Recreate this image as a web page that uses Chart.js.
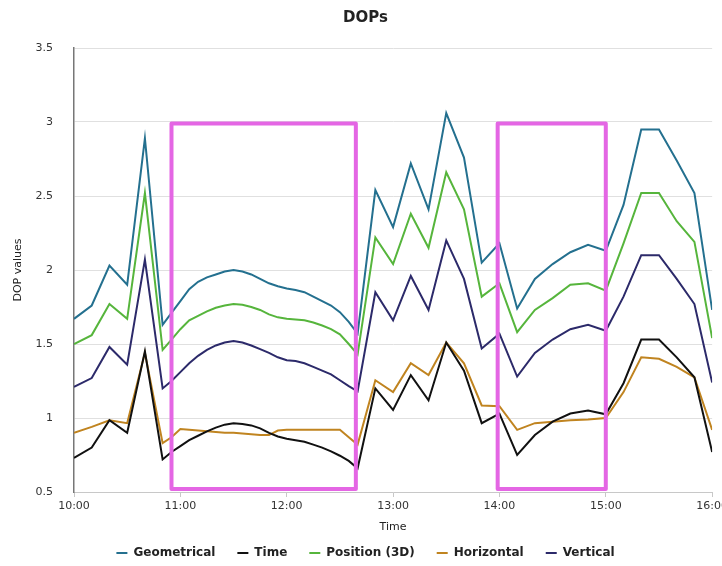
<!DOCTYPE html>
<html>
<head>
<meta charset="utf-8">
<title>DOPs</title>
<script src="https://cdn.jsdelivr.net/npm/chart.js@4.4.1/dist/chart.umd.min.js"></script>
<style>
  html, body { margin: 0; padding: 0; background: #fff; overflow: hidden; }
  #wrap { width: 731px; height: 566px; }
</style>
</head>
<body>
<div id="wrap"><canvas id="dopChart"></canvas></div>
<script>
// sample times (clock)
const times = [
  "10:00", "10:10", "10:20", "10:30", "10:40", "10:50",
  "10:55", "11:00", "11:05", "11:10", "11:15", "11:20", "11:25", "11:30", "11:35", "11:40", "11:45",
  "11:50", "11:55", "12:00", "12:05", "12:10", "12:15", "12:20", "12:25", "12:30", "12:35", "12:40",
  "12:50", "13:00", "13:10", "13:20", "13:30", "13:40", "13:50", "14:00",
  "14:10", "14:20", "14:30", "14:40", "14:50", "15:00", "15:10", "15:20", "15:30", "15:40", "15:50", "16:00"
];

const geometrical = [
  1.67, 1.76, 2.03, 1.90, 2.89, 1.63,
  1.71, 1.79, 1.87, 1.92, 1.95, 1.97, 1.99, 2.00, 1.99, 1.97, 1.94,
  1.91, 1.89, 1.875, 1.865, 1.85, 1.82, 1.79, 1.76, 1.715, 1.65, 1.57,
  2.54, 2.29, 2.72, 2.41, 3.06, 2.76, 2.05, 2.18,
  1.74, 1.94, 2.04, 2.12, 2.17, 2.13, 2.44, 2.95, 2.95, 2.74, 2.52, 1.73
];

const timeDop = [
  0.73, 0.80, 0.985, 0.90, 1.45, 0.72,
  0.77, 0.81, 0.85, 0.88, 0.91, 0.935, 0.955, 0.965, 0.96, 0.95, 0.93,
  0.90, 0.875, 0.86, 0.85, 0.84, 0.82, 0.80, 0.775, 0.745, 0.71, 0.66,
  1.20, 1.055, 1.29, 1.12, 1.51, 1.32, 0.965, 1.03,
  0.75, 0.885, 0.975, 1.03, 1.05, 1.025, 1.235, 1.53, 1.53, 1.41, 1.275, 0.77
];

const position3d = [
  1.50, 1.56, 1.77, 1.67, 2.52, 1.46,
  1.53, 1.60, 1.66, 1.69, 1.72, 1.745, 1.76, 1.77, 1.765, 1.75, 1.73,
  1.70, 1.68, 1.67, 1.665, 1.66, 1.645, 1.625, 1.60, 1.565, 1.50, 1.43,
  2.22, 2.04, 2.38, 2.15, 2.66, 2.41, 1.82, 1.91,
  1.58, 1.73, 1.81, 1.90, 1.91, 1.86, 2.18, 2.52, 2.52, 2.33, 2.19, 1.54
];

const horizontal = [
  0.90, 0.94, 0.985, 0.965, 1.44, 0.83,
  0.87, 0.925, 0.92, 0.915, 0.91, 0.905, 0.90, 0.90, 0.895, 0.89, 0.885,
  0.885, 0.915, 0.92, 0.92, 0.92, 0.92, 0.92, 0.92, 0.92, 0.87, 0.82,
  1.255, 1.175, 1.37, 1.29, 1.51, 1.37, 1.085, 1.08,
  0.92, 0.965, 0.975, 0.985, 0.99, 1.0, 1.175, 1.41, 1.40, 1.345, 1.275, 0.92
];

const vertical = [
  1.21, 1.27, 1.48, 1.36, 2.07, 1.20,
  1.25, 1.31, 1.37, 1.42, 1.46, 1.49, 1.51, 1.52, 1.51, 1.49, 1.465,
  1.44, 1.41, 1.39, 1.385, 1.37, 1.345, 1.32, 1.295, 1.255, 1.215, 1.18,
  1.85, 1.66, 1.96, 1.73, 2.20, 1.94, 1.47, 1.57,
  1.28, 1.44, 1.53, 1.60, 1.63, 1.59, 1.82, 2.10, 2.10, 1.94, 1.77, 1.24
];

const xTicks = ["10:00", "11:00", "12:00", "13:00", "14:00", "15:00", "16:00"];
const yTicks = [0.5, 1, 1.5, 2, 2.5, 3, 3.5];

// highlighted periods
const boxFrom = ["10:55", "13:59"];
const boxTo = ["12:39", "15:00"];
const boxTop = 2.99;
const boxBottom = 0.52;

const START = "10:00";

function toMinutes(clock) {
  const [h, m] = clock.split(":").map(Number);
  const [h0, m0] = START.split(":").map(Number);
  return (h - h0) * 60 + (m - m0);
}

function toClock(min) {
  const [h0, m0] = START.split(":").map(Number);
  const total = h0 * 60 + m0 + min;
  const h = Math.floor(total / 60);
  const m = total % 60;
  return h + ":" + String(m).padStart(2, "0");
}

function points(values) {
  return values.map((v, i) => ({ x: toMinutes(times[i]), y: v }));
}

const series = [
  { label: "Geometrical", data: geometrical, color: "#24708f" },
  { label: "Time", data: timeDop, color: "#111111" },
  { label: "Position (3D)", data: position3d, color: "#56b53c" },
  { label: "Horizontal", data: horizontal, color: "#c08420" },
  { label: "Vertical", data: vertical, color: "#2c2a6a" },
];

// magenta frames around the highlighted periods
const boxPlugin = {
  id: "boxes",
  afterDatasetsDraw(chart) {
    const { ctx, scales: { x, y } } = chart;
    ctx.save();
    ctx.strokeStyle = "#e466e4";
    ctx.lineWidth = 4;
    ctx.lineJoin = "round";
    boxFrom.forEach((from, i) => {
      const x1 = x.getPixelForValue(toMinutes(from));
      const x2 = x.getPixelForValue(toMinutes(boxTo[i]));
      const y1 = y.getPixelForValue(boxTop);
      const y2 = y.getPixelForValue(boxBottom);
      ctx.strokeRect(x1, y1, x2 - x1, y2 - y1);
    });
    ctx.restore();
  },
};

Chart.defaults.font.family = "'DejaVu Sans', sans-serif";
Chart.defaults.color = "#333";

new Chart(document.getElementById("dopChart"), {
  type: "line",
  data: {
    datasets: series.map((s) => ({
      label: s.label,
      data: points(s.data),
      borderColor: s.color,
      backgroundColor: s.color,
      borderWidth: 2,
      pointRadius: 0,
      tension: 0,
      fill: false,
    })),
  },
  options: {
    responsive: true,
    maintainAspectRatio: false,
    animation: false,
    layout: { padding: { top: 9, left: 0, right: 0, bottom: -3 } },
    plugins: {
      title: {
        display: true,
        text: "DOPs",
        color: "#222",
        font: { size: 15, weight: "bold" },
        padding: { top: 0, bottom: 21 },
      },
      legend: {
        position: "bottom",
        labels: {
          usePointStyle: true,
          pointStyle: "line",
          pointStyleWidth: 11,
          boxHeight: 12,
          padding: 22,
          color: "#222",
          font: { size: 12, weight: "bold" },
        },
      },
      tooltip: { enabled: false },
    },
    scales: {
      x: {
        type: "linear",
        min: toMinutes(xTicks[0]),
        max: toMinutes(xTicks[xTicks.length - 1]),
        afterBuildTicks: (scale) => {
          scale.ticks = xTicks.map((t) => ({ value: toMinutes(t) }));
        },
        afterFit: (scale) => {
          scale.height = 33;
        },
        ticks: {
          callback: (v) => toClock(v),
          maxRotation: 0,
          autoSkip: false,
          padding: 3,
          color: "#333",
          font: { size: 11 },
        },
        grid: { drawOnChartArea: false, drawTicks: true, tickLength: 5, color: "#c8c8c8" },
        border: { color: "#c8c8c8" },
        title: {
          display: true,
          text: "Time",
          color: "#222",
          font: { size: 11 },
          padding: { top: 0, bottom: -9 },
        },
      },
      y: {
        min: yTicks[0],
        max: yTicks[yTicks.length - 1],
        afterBuildTicks: (scale) => {
          scale.ticks = yTicks.map((v) => ({ value: v }));
        },
        afterFit: (scale) => {
          scale.width = 74;
        },
        ticks: {
          callback: (v) => String(v),
          padding: 21,
          color: "#333",
          font: { size: 11 },
        },
        grid: { color: "#e0e0e0", drawTicks: false },
        border: { color: "#777", width: 1.5 },
        title: {
          display: true,
          text: "DOP values",
          color: "#222",
          font: { size: 11 },
          padding: { top: 12, bottom: 0 },
        },
      },
    },
  },
  plugins: [boxPlugin],
});
</script>
</body>
</html>
